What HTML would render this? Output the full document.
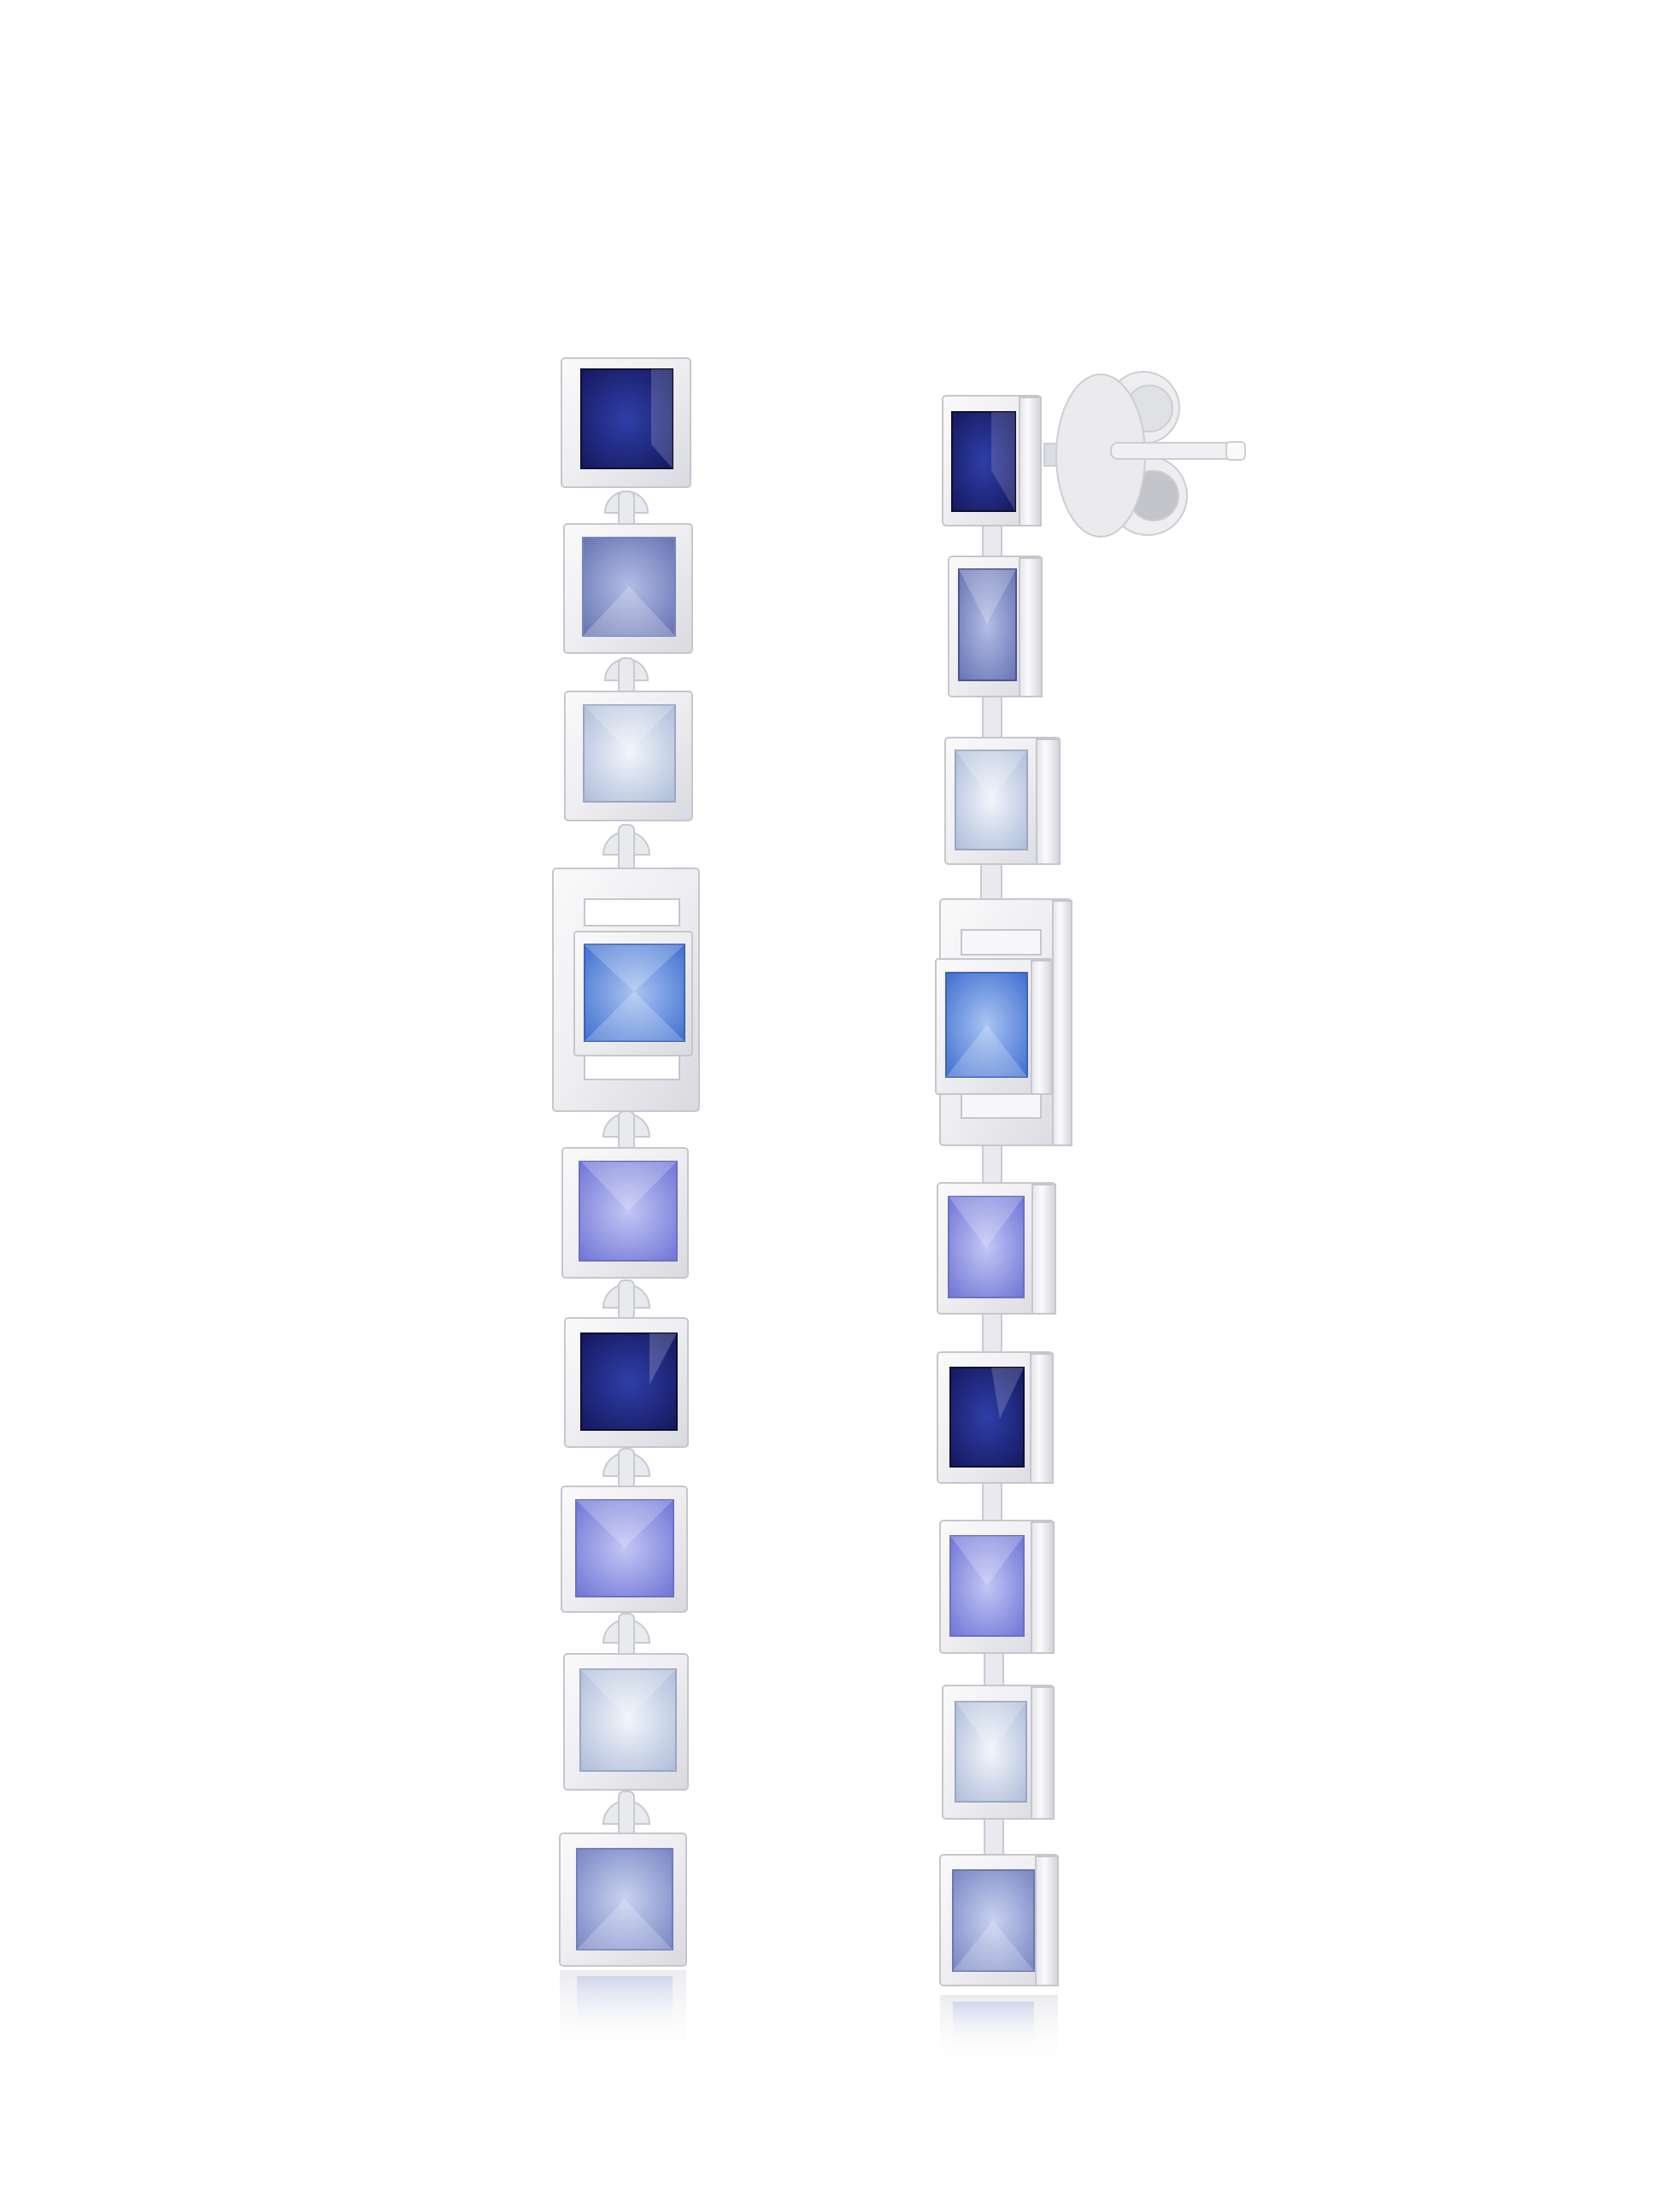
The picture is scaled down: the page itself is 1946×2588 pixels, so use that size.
<!DOCTYPE html>
<html><head><meta charset="utf-8"><style>html,body{margin:0;padding:0;background:#fff}svg{display:block}</style></head>
<body>
<svg width="1946" height="2588" viewBox="0 0 1946 2588" xmlns="http://www.w3.org/2000/svg">
<defs>
<linearGradient id="sil" x1="0" y1="0" x2="1" y2="1"><stop offset="0" stop-color="#fafafb"/><stop offset=".5" stop-color="#eeeef1"/><stop offset="1" stop-color="#d9dadf"/></linearGradient>
<linearGradient id="side" x1="0" y1="0" x2="1" y2="0"><stop offset="0" stop-color="#e4e5e9"/><stop offset=".4" stop-color="#fbfbfc"/><stop offset="1" stop-color="#d2d3d8"/></linearGradient>
<radialGradient id="navy" cx=".5" cy=".5" r=".7"><stop offset="0" stop-color="#2f3fa8"/><stop offset="1" stop-color="#15185e"/></radialGradient>
<radialGradient id="grey" cx=".5" cy=".5" r=".7"><stop offset="0" stop-color="#b4bde6"/><stop offset="1" stop-color="#6673b3"/></radialGradient>
<radialGradient id="clear" cx=".5" cy=".5" r=".7"><stop offset="0" stop-color="#f2f5fb"/><stop offset="1" stop-color="#aebdd9"/></radialGradient>
<radialGradient id="blue" cx=".5" cy=".5" r=".7"><stop offset="0" stop-color="#a9c4f2"/><stop offset="1" stop-color="#3f6fd0"/></radialGradient>
<radialGradient id="lav" cx=".5" cy=".5" r=".7"><stop offset="0" stop-color="#c3c6f5"/><stop offset="1" stop-color="#6f75d5"/></radialGradient>
<radialGradient id="lblue" cx=".5" cy=".5" r=".7"><stop offset="0" stop-color="#c9d2f0"/><stop offset="1" stop-color="#7886c4"/></radialGradient>
<linearGradient id="refl" x1="0" y1="0" x2="0" y2="1"><stop offset="0" stop-color="#b8c2ea" stop-opacity=".55"/><stop offset="1" stop-color="#ffffff" stop-opacity="0"/></linearGradient>
<linearGradient id="refs" x1="0" y1="0" x2="0" y2="1"><stop offset="0" stop-color="#e6e7ea" stop-opacity=".8"/><stop offset="1" stop-color="#ffffff" stop-opacity="0"/></linearGradient>
</defs>

<g fill="#e9eaed" stroke="#c9cad0" stroke-width="2">
<path d="M708 600 a25 25 0 0 1 50 0 Z"/><rect x="724" y="575" width="18" height="42" rx="6"/>
<path d="M708 796 a25 25 0 0 1 50 0 Z"/><rect x="724" y="770" width="18" height="42" rx="6"/>
<path d="M706 1000 a27 27 0 0 1 54 0 Z"/><rect x="724" y="965" width="18" height="55" rx="6"/>
<path d="M706 1330 a27 27 0 0 1 54 0 Z"/><rect x="724" y="1300" width="18" height="46" rx="6"/>
<path d="M706 1530 a27 27 0 0 1 54 0 Z"/><rect x="724" y="1498" width="18" height="46" rx="6"/>
<path d="M706 1727 a27 27 0 0 1 54 0 Z"/><rect x="724" y="1695" width="18" height="46" rx="6"/>
<path d="M706 1922 a27 27 0 0 1 54 0 Z"/><rect x="724" y="1888" width="18" height="50" rx="6"/>
<path d="M706 2134 a27 27 0 0 1 54 0 Z"/><rect x="724" y="2096" width="18" height="52" rx="6"/>
</g>
<g fill="#e9eaed" stroke="#c9cad0" stroke-width="2">
<rect x="1150" y="612" width="22" height="42" rx="6"/>
<rect x="1150" y="812" width="22" height="54" rx="6"/>
<rect x="1148" y="1008" width="24" height="48" rx="6"/>
<rect x="1150" y="1336" width="22" height="50" rx="6"/>
<rect x="1150" y="1534" width="22" height="50" rx="6"/>
<rect x="1150" y="1732" width="22" height="50" rx="6"/>
<rect x="1152" y="1930" width="22" height="45" rx="6"/>
<rect x="1152" y="2125" width="22" height="48" rx="6"/>
</g>

<!-- stud back -->
<g stroke="#cdced3" stroke-width="2">
<rect x="1222" y="519" width="75" height="26" fill="#dcdde2"/>
<circle cx="1338" cy="477" r="42" fill="#eeeef1"/><circle cx="1345" cy="478" r="27" fill="#e0e1e5"/>
<circle cx="1343" cy="580" r="46" fill="#eeeef1"/><circle cx="1350" cy="580" r="29" fill="#c4c5ca"/>
<ellipse cx="1288" cy="533" rx="52" ry="95" fill="#ebebee"/>
<rect x="1300" y="518" width="157" height="19" rx="8" fill="#f0f0f2"/>
<rect x="1435" y="517" width="22" height="21" rx="5" fill="#fafafa"/>
</g>

<g stroke="#c6c7cd" stroke-width="2">
<rect x="657" y="419" width="151" height="151" rx="4" fill="url(#sil)"/><rect x="680" y="432" width="107" height="116" fill="url(#navy)" stroke="#0d0f30"/>
<rect x="660" y="613" width="150" height="151" rx="4" fill="url(#sil)"/><rect x="682" y="629" width="108" height="115" fill="url(#grey)" stroke="#7a84b8"/>
<rect x="661" y="809" width="149" height="151" rx="4" fill="url(#sil)"/><rect x="683" y="825" width="107" height="113" fill="url(#clear)" stroke="#9aa6c6"/>
<rect x="647" y="1016" width="171" height="284" rx="4" fill="url(#sil)"/>
<rect x="684" y="1052" width="111" height="31" fill="#ffffff"/><rect x="684" y="1235" width="111" height="28" fill="#ffffff"/>
<rect x="672" y="1090" width="138" height="145" rx="3" fill="url(#sil)"/><rect x="684" y="1105" width="117" height="113" fill="url(#blue)" stroke="#3b64b8"/>
<rect x="658" y="1343" width="147" height="152" rx="4" fill="url(#sil)"/><rect x="678" y="1359" width="114" height="116" fill="url(#lav)" stroke="#6a70c6"/>
<rect x="661" y="1542" width="144" height="151" rx="4" fill="url(#sil)"/><rect x="680" y="1560" width="112" height="113" fill="url(#navy)" stroke="#0d0f30"/>
<rect x="657" y="1739" width="147" height="147" rx="4" fill="url(#sil)"/><rect x="674" y="1755" width="114" height="113" fill="url(#lav)" stroke="#6a70c6"/>
<rect x="660" y="1935" width="145" height="159" rx="4" fill="url(#sil)"/><rect x="679" y="1953" width="112" height="119" fill="url(#clear)" stroke="#9aa6c6"/>
<rect x="655" y="2145" width="148" height="155" rx="4" fill="url(#sil)"/><rect x="675" y="2163" width="112" height="118" fill="url(#lblue)" stroke="#7080bb"/>

<rect x="1103" y="463" width="115" height="152" rx="4" fill="url(#sil)"/><rect x="1193" y="465" width="25" height="150" fill="url(#side)"/><rect x="1114" y="482" width="74" height="116" fill="url(#navy)" stroke="#0d0f30"/>
<rect x="1110" y="651" width="109" height="164" rx="4" fill="url(#sil)"/><rect x="1193" y="653" width="26" height="162" fill="url(#side)"/><rect x="1122" y="666" width="67" height="130" fill="url(#grey)" stroke="#4a5590"/>
<rect x="1106" y="863" width="134" height="148" rx="4" fill="url(#sil)"/><rect x="1213" y="865" width="27" height="146" fill="url(#side)"/><rect x="1118" y="878" width="84" height="116" fill="url(#clear)" stroke="#9aa6c6"/>
<rect x="1100" y="1052" width="154" height="288" rx="4" fill="url(#sil)"/><rect x="1232" y="1054" width="22" height="286" fill="url(#side)"/>
<rect x="1125" y="1088" width="93" height="29" fill="#f7f7f9"/><rect x="1125" y="1280" width="93" height="28" fill="#f7f7f9"/>
<rect x="1095" y="1122" width="136" height="158" rx="3" fill="url(#sil)"/><rect x="1207" y="1124" width="24" height="156" fill="url(#side)"/><rect x="1107" y="1138" width="95" height="122" fill="url(#blue)" stroke="#3b64b8"/>
<rect x="1097" y="1384" width="138" height="153" rx="4" fill="url(#sil)"/><rect x="1208" y="1386" width="27" height="151" fill="url(#side)"/><rect x="1110" y="1400" width="88" height="118" fill="url(#lav)" stroke="#6a70c6"/>
<rect x="1097" y="1582" width="135" height="153" rx="4" fill="url(#sil)"/><rect x="1206" y="1584" width="26" height="151" fill="url(#side)"/><rect x="1112" y="1600" width="86" height="116" fill="url(#navy)" stroke="#0d0f30"/>
<rect x="1100" y="1779" width="133" height="155" rx="4" fill="url(#sil)"/><rect x="1207" y="1781" width="26" height="153" fill="url(#side)"/><rect x="1112" y="1797" width="86" height="117" fill="url(#lav)" stroke="#6a70c6"/>
<rect x="1103" y="1972" width="130" height="156" rx="4" fill="url(#sil)"/><rect x="1207" y="1974" width="26" height="154" fill="url(#side)"/><rect x="1118" y="1991" width="83" height="117" fill="url(#clear)" stroke="#9aa6c6"/>
<rect x="1100" y="2170" width="138" height="153" rx="4" fill="url(#sil)"/><rect x="1212" y="2172" width="26" height="151" fill="url(#side)"/><rect x="1115" y="2188" width="95" height="118" fill="url(#lblue)" stroke="#6a78b3"/>
</g>

<g fill="#ffffff" fill-opacity=".22">
<polygon points="683,1105 742,1160 801,1105"/><polygon points="684,1218 742,1160 801,1218"/>
<polygon points="680,1359 735,1417 792,1359"/><polygon points="674,1755 731,1811 788,1755"/>
<polygon points="683,825 736,880 790,825"/><polygon points="679,1953 735,2012 791,1953"/>
<polygon points="675,2281 731,2222 787,2281"/><polygon points="682,744 736,686 790,744"/>
<polygon points="1107,1260 1155,1199 1202,1260"/><polygon points="1110,1400 1154,1460 1198,1400"/>
<polygon points="1112,1797 1155,1855 1198,1797"/><polygon points="1118,1991 1160,2050 1201,1991"/>
<polygon points="1115,2306 1162,2247 1210,2306"/><polygon points="1122,666 1155,730 1189,666"/>
<polygon points="1118,878 1160,936 1202,878"/>
<polygon points="762,432 787,432 787,548 762,520" fill-opacity=".18"/><polygon points="760,1560 792,1560 760,1620" fill-opacity=".2"/>
<polygon points="1160,482 1188,482 1188,598 1160,550" fill-opacity=".15"/><polygon points="1160,1600 1198,1600 1170,1660" fill-opacity=".18"/>
</g>

<rect x="655" y="2305" width="148" height="115" fill="url(#refs)"/>
<rect x="675" y="2312" width="112" height="70" fill="url(#refl)"/>
<rect x="1100" y="2334" width="138" height="90" fill="url(#refs)"/>
<rect x="1115" y="2342" width="95" height="55" fill="url(#refl)"/>
</svg>
</body></html>
